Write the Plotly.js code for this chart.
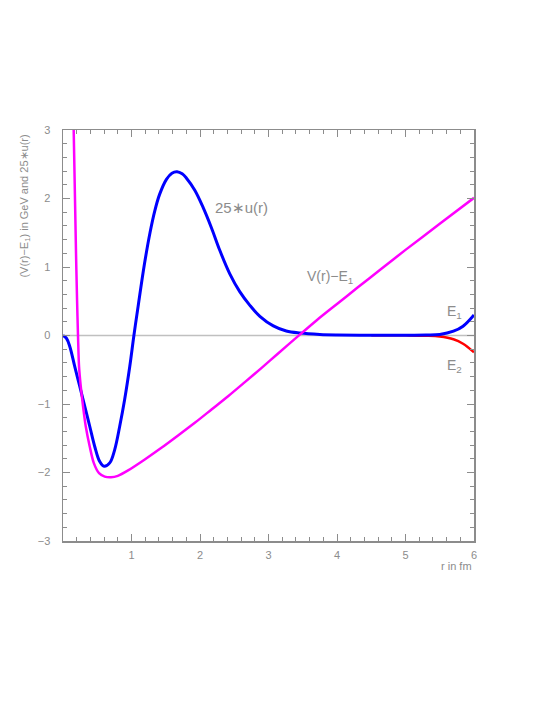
<!DOCTYPE html>
<html>
<head>
<meta charset="utf-8">
<script src="https://cdn.plot.ly/plotly-3.0.1.min.js"></script>
<style>
  html, body { margin: 0; padding: 0; background: #fff; }
  #chart { width: 554px; height: 717px; }
</style>
</head>
<body>
<div id="chart"></div>
<script>
// V(r) - E1 in GeV
const rPot = [0.156, 0.19, 0.205, 0.219, 0.234, 0.259, 0.292, 0.332, 0.39, 0.449, 0.526, 0.609, 0.7, 0.8, 0.95, 1.194, 1.437, 1.68, 1.924, 2.168, 2.41, 2.655, 2.9, 3.14, 3.385, 3.7, 4.0, 4.3, 4.63, 5.0, 5.5, 6.0];
const vPot = [3.0, 1.2, 0.53, 0.0, -0.45, -0.74, -1.03, -1.325, -1.62, -1.86, -2.01, -2.06, -2.07, -2.05, -1.97, -1.81, -1.64, -1.46, -1.275, -1.08, -0.886, -0.68, -0.472, -0.263, -0.05, 0.22, 0.46, 0.70, 0.96, 1.25, 1.63, 2.01];

// 25*u(r) for E1 (blue)
const rU1 = [0, 0.05, 0.098, 0.171, 0.244, 0.317, 0.39, 0.463, 0.536, 0.6, 0.682, 0.755, 0.828, 0.9, 0.975, 1.035, 1.1, 1.19, 1.27, 1.34, 1.41, 1.51, 1.59, 1.665, 1.74, 1.8, 1.924, 2.045, 2.168, 2.29, 2.435, 2.58, 2.728, 2.874, 3.07, 3.26, 3.46, 3.75, 4.0, 4.5, 5.0, 5.3, 5.5, 5.7, 5.84, 6.0];
const uE1 = [0, -0.04, -0.156, -0.45, -0.74, -1.03, -1.325, -1.62, -1.84, -1.91, -1.86, -1.665, -1.325, -0.935, -0.45, 0, 0.45, 1.05, 1.5, 1.82, 2.06, 2.28, 2.37, 2.39, 2.36, 2.3, 2.12, 1.87, 1.57, 1.24, 0.9, 0.64, 0.44, 0.28, 0.14, 0.065, 0.035, 0.015, 0.008, 0.004, 0.004, 0.007, 0.015, 0.063, 0.136, 0.3];

// 25*u(r) for E2 (red), only the tail differs
const rU2 = [4.5, 5.0, 5.3, 5.5, 5.7, 5.84, 6.0];
const uE2 = [0.004, 0.002, -0.003, -0.015, -0.055, -0.12, -0.245];

const xTicks = [1, 2, 3, 4, 5, 6];
const yTicks = [-3, -2, -1, 0, 1, 2, 3];

const grey = '#8c8c8c';
const family = '"Liberation Sans", Arial, sans-serif';
const font = { family: family, color: grey, size: 11 };

const traces = [
  {
    x: rU2, y: uE2, mode: 'lines', type: 'scatter',
    line: { color: '#ff0000', width: 2.5, shape: 'spline', smoothing: 1 },
    hoverinfo: 'skip'
  },
  {
    x: rU1, y: uE1, mode: 'lines', type: 'scatter',
    line: { color: '#0000ff', width: 3, shape: 'spline', smoothing: 1 },
    hoverinfo: 'skip'
  },
  {
    x: rPot, y: vPot, mode: 'lines', type: 'scatter',
    line: { color: '#ff00ff', width: 2.5, shape: 'spline', smoothing: 0.8 },
    hoverinfo: 'skip'
  }
];

const axisCommon = {
  showgrid: false,
  showline: true,
  linecolor: grey,
  linewidth: 1.5,
  mirror: 'ticks',
  ticks: 'inside',
  ticklen: 7,
  tickwidth: 1,
  tickcolor: grey,
  tickfont: font,
  zeroline: false,
  minor: { dtick: 0.2, tick0: 0, ticks: 'inside', ticklen: 4, tickcolor: grey, tickwidth: 1 }
};

const layout = {
  width: 554,
  height: 717,
  margin: { l: 63, r: 80, t: 130, b: 176 },
  paper_bgcolor: 'white',
  plot_bgcolor: 'white',
  showlegend: false,
  font: font,
  xaxis: Object.assign({}, axisCommon, {
    range: [0, 6],
    tickmode: 'array',
    tickvals: xTicks,
    ticktext: xTicks.map(String),
    ticklabelstandoff: 3
  }),
  yaxis: Object.assign({}, axisCommon, {
    range: [-3, 3],
    tickmode: 'array',
    tickvals: yTicks,
    ticklabelstandoff: 9
  }),
  shapes: [
    { type: 'line', xref: 'paper', yref: 'y', x0: 0, x1: 1, y0: 0, y1: 0, layer: 'below',
      line: { color: '#c0c0c0', width: 1.5 } }
  ],
  annotations: [
    { text: '(V(r)−E<sub>1</sub>) in GeV and 25∗u(r)', xref: 'paper', yref: 'paper',
      x: -0.092, y: 0.993, xanchor: 'center', yanchor: 'top', textangle: -90,
      showarrow: false, font: { family: family, color: grey, size: 11 } },
    { text: 'r in fm', xref: 'paper', yref: 'paper', x: 1, y: -0.061,
      xanchor: 'right', yanchor: 'middle', showarrow: false,
      font: { family: family, color: grey, size: 11 } },
    { text: '25∗u(r)', xref: 'x', yref: 'y', x: 2.61, y: 1.87,
      showarrow: false, font: { family: family, color: grey, size: 15 } },
    { text: 'V(r)−E<sub>1</sub>', xref: 'x', yref: 'y', x: 3.9, y: 0.86,
      showarrow: false, font: { family: family, color: grey, size: 14 } },
    { text: 'E<sub>1</sub>', xref: 'x', yref: 'y', x: 5.72, y: 0.35,
      showarrow: false, font: { family: family, color: grey, size: 14 } },
    { text: 'E<sub>2</sub>', xref: 'x', yref: 'y', x: 5.72, y: -0.45,
      showarrow: false, font: { family: family, color: grey, size: 14 } }
  ]
};

Plotly.newPlot('chart', traces, layout, { displayModeBar: false, staticPlot: true });
</script>
</body>
</html>
